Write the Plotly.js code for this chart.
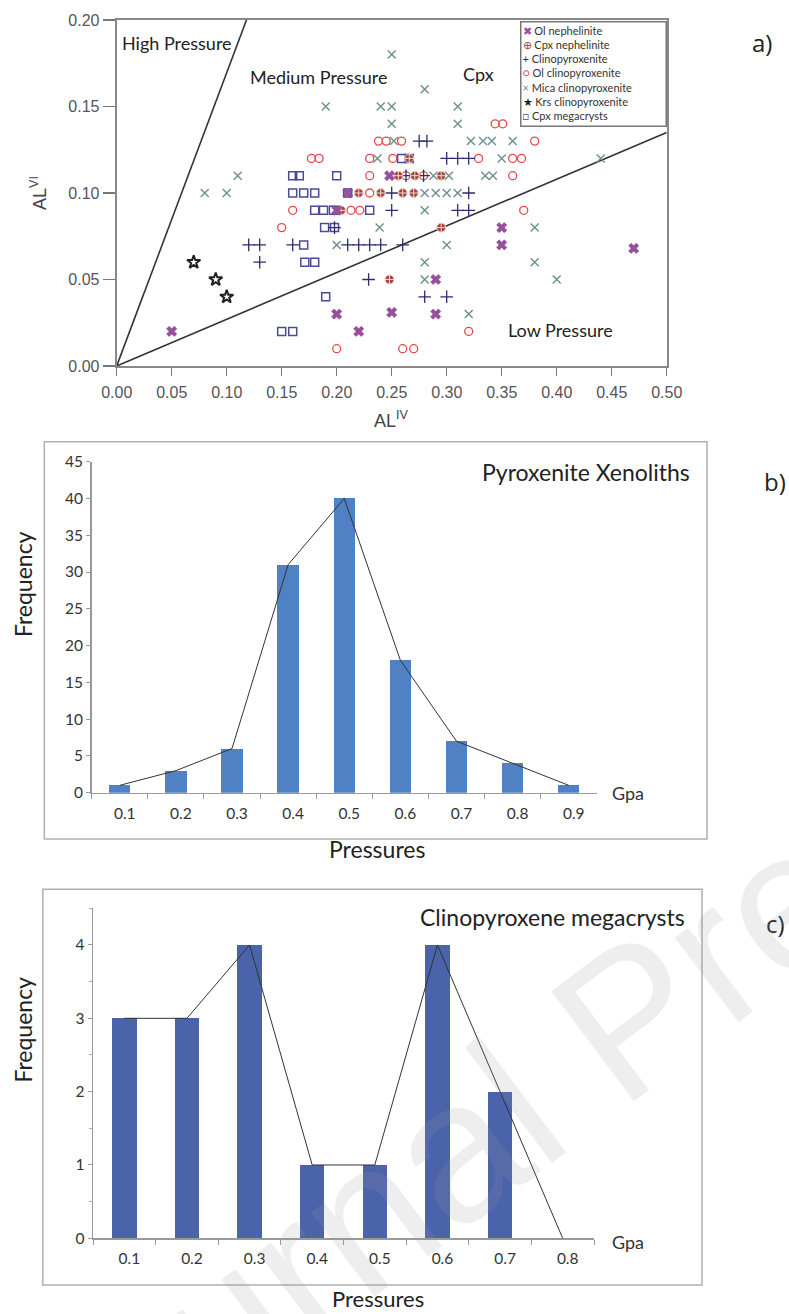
<!DOCTYPE html>
<html>
<head>
<meta charset="utf-8">
<script src="https://cdn.plot.ly/plotly-3.0.1.min.js"></script>
<style>html,body{margin:0;padding:0;background:#fff}#chart{width:789px;height:1314px}</style>
</head>
<body>
<div id="chart"></div>
<script>
// ---------- Panel a data (AL IV vs AL VI) ----------
const seriesNames = ["Ol nephelinite","Cpx nephelinite","Clinopyroxenite","Ol clinopyroxenite","Mica clinopyroxenite","Krs clinopyroxenite","Cpx megacrysts"];
const olNephX = [0.05,0.20,0.22,0.25,0.29,0.29,0.35,0.35,0.47,0.21,0.248,0.20];
const olNephY = [0.02,0.03,0.02,0.031,0.03,0.05,0.08,0.07,0.068,0.10,0.11,0.09];
const cpxNephX = [0.295,0.22,0.24,0.26,0.27,0.256,0.271,0.295,0.204,0.266,0.248];
const cpxNephY = [0.08,0.10,0.10,0.10,0.10,0.11,0.11,0.11,0.09,0.12,0.05];
const clinoX = [0.12,0.13,0.13,0.16,0.21,0.22,0.23,0.24,0.26,0.229,0.28,0.30,0.25,0.31,0.32,0.25,0.32,0.30,0.31,0.32,0.275,0.282,0.198,0.263,0.279];
const clinoY = [0.07,0.07,0.06,0.07,0.07,0.07,0.07,0.07,0.07,0.05,0.04,0.04,0.09,0.09,0.09,0.10,0.10,0.12,0.12,0.12,0.13,0.13,0.08,0.11,0.11];
const olClinoX = [0.15,0.16,0.213,0.221,0.23,0.23,0.36,0.177,0.184,0.23,0.251,0.329,0.36,0.368,0.238,0.245,0.259,0.38,0.344,0.351,0.37,0.32,0.20,0.26,0.27,0.263,0.279];
const olClinoY = [0.08,0.09,0.09,0.09,0.10,0.11,0.11,0.12,0.12,0.12,0.12,0.12,0.12,0.12,0.13,0.13,0.13,0.13,0.14,0.14,0.09,0.02,0.01,0.01,0.01,0.11,0.11];
const micaX = [0.08,0.10,0.11,0.19,0.24,0.25,0.31,0.25,0.31,0.25,0.28,0.252,0.322,0.333,0.341,0.36,0.237,0.35,0.288,0.302,0.335,0.342,0.28,0.29,0.30,0.31,0.28,0.239,0.38,0.20,0.30,0.28,0.38,0.28,0.40,0.32,0.44];
const micaY = [0.10,0.10,0.11,0.15,0.15,0.15,0.15,0.14,0.14,0.18,0.16,0.13,0.13,0.13,0.13,0.13,0.12,0.12,0.11,0.11,0.11,0.11,0.10,0.10,0.10,0.10,0.09,0.08,0.08,0.07,0.07,0.06,0.06,0.05,0.05,0.03,0.12];
const krsX = [0.07,0.09,0.10];
const krsY = [0.06,0.05,0.04];
const megaX = [0.16,0.166,0.20,0.16,0.17,0.18,0.18,0.188,0.23,0.189,0.198,0.17,0.171,0.18,0.19,0.15,0.16,0.259,0.266,0.21,0.197];
const megaY = [0.11,0.11,0.11,0.10,0.10,0.10,0.09,0.09,0.09,0.08,0.08,0.07,0.06,0.06,0.04,0.02,0.02,0.12,0.12,0.10,0.09];
// pressure field boundaries
const highLineX = [0, 0.118], highLineY = [0, 0.20];
const lowLineX = [0, 0.50], lowLineY = [0, 0.135];

// ---------- Panel b data ----------
const pressB = ["0.1","0.2","0.3","0.4","0.5","0.6","0.7","0.8","0.9"];
const freqB = [1,3,6,31,40,18,7,4,1];
// ---------- Panel c data ----------
const pressC = ["0.1","0.2","0.3","0.4","0.5","0.6","0.7","0.8"];
const freqC = [3,3,4,1,1,4,2,0];

const W = 789, H = 1314;
const px = v => v / W;
const py = v => 1 - v / H;

const colors = {
  olNeph: "#9a4f9e", cpxNeph: "#a3453c", clino: "#2c2c72", olClino: "#e04a4a",
  mica: "#6c8f90", krs: "#222222", mega: "#4a4a98"
};

function sc(x, y, name, symbol, color, size, lw) {
  return {
    type: "scatter", mode: "markers", x: x, y: y, name: name, xaxis: "x", yaxis: "y",
    showlegend: false,
    marker: { symbol: symbol, size: size, color: color, line: { color: color, width: lw } }
  };
}

const traces = [
  { type: "scatter", mode: "lines", x: highLineX, y: highLineY, xaxis: "x", yaxis: "y", showlegend: false, hoverinfo: "skip", line: { color: "#333", width: 1.6 } },
  { type: "scatter", mode: "lines", x: lowLineX, y: lowLineY, xaxis: "x", yaxis: "y", showlegend: false, hoverinfo: "skip", line: { color: "#333", width: 1.6 } },
  sc(megaX, megaY, seriesNames[6], "square-open", colors.mega, 8, 1.5),
  sc(olClinoX, olClinoY, seriesNames[3], "circle-open", colors.olClino, 8, 1.3),
  sc(micaX, micaY, seriesNames[4], "x-thin-open", colors.mica, 8, 1.4),
  sc(clinoX, clinoY, seriesNames[2], "cross-thin-open", colors.clino, 9, 1.3),
  { type: "scatter", mode: "markers", x: cpxNephX, y: cpxNephY, name: seriesNames[1], xaxis: "x", yaxis: "y", showlegend: false,
    marker: { symbol: "circle-cross", size: 9, color: colors.cpxNeph, line: { color: "#f2d6d2", width: 1 } } },
  { type: "scatter", mode: "markers", x: olNephX, y: olNephY, name: seriesNames[0], xaxis: "x", yaxis: "y", showlegend: false,
    marker: { symbol: "x", size: 9, color: colors.olNeph, line: { color: "#7a3c7e", width: 0.5 } } },
  sc(krsX, krsY, seriesNames[5], "star-open", colors.krs, 10, 2),
  // panel b
  { type: "bar", x: pressB, y: freqB, xaxis: "x2", yaxis: "y2", width: 0.38, showlegend: false,
    marker: { color: "#4f81c4" }, name: "Pyroxenite Xenoliths" },
  { type: "scatter", mode: "lines", x: pressB, y: freqB, xaxis: "x2", yaxis: "y2", showlegend: false, hoverinfo: "skip",
    line: { color: "#333", width: 1 } },
  // panel c
  { type: "bar", x: pressC, y: freqC, xaxis: "x3", yaxis: "y3", width: 0.39, showlegend: false,
    marker: { color: "#4a63ab" }, name: "Clinopyroxene megacrysts" },
  { type: "scatter", mode: "lines", x: pressC, y: freqC, xaxis: "x3", yaxis: "y3", showlegend: false, hoverinfo: "skip",
    line: { color: "#333", width: 1 } }
];

const tickA = { family: "Liberation Sans, Arial, sans-serif", size: 16, color: "#555" };
const tickB = { family: "Lato, sans-serif", size: 15.5, color: "#333" };
const labFont = { family: "Lato, sans-serif", size: 18, color: "#222" };
const bigFont = { family: "Lato, sans-serif", size: 23, color: "#222" };
const panelFont = { family: "Open Sans, sans-serif", size: 24, color: "#222" };

// manual legend text
const legendGlyphs = ["\u2716", "\u2295", "+", "\u25CB", "\u00D7", "\u2605", "\u25A1"];
const legendColors = [colors.olNeph, colors.cpxNeph, colors.clino, colors.olClino, colors.mica, colors.krs, colors.mega];
const legendText = seriesNames.map((n, i) =>
  '<span style="color:' + legendColors[i] + '">' + legendGlyphs[i] + '</span> ' + n).join("<br>");

function pa(xp, yp, text, font, extra) {
  return Object.assign({ xref: "paper", yref: "paper", x: px(xp), y: py(yp), text: text, showarrow: false,
    xanchor: "center", yanchor: "middle", font: font }, extra || {});
}

const layout = {
  width: W, height: H,
  margin: { l: 0, r: 0, t: 0, b: 0 },
  paper_bgcolor: "#ffffff", plot_bgcolor: "rgba(0,0,0,0)",
  showlegend: false,
  bargap: 0,
  xaxis: {
    domain: [px(116.7), px(666.7)], range: [0, 0.5], anchor: "y",
    tick0: 0, dtick: 0.05, tickformat: ".2f", ticks: "outside", ticklen: 8, tickwidth: 1.5, tickcolor: "#777",
    showline: true, mirror: true, linecolor: "#888", linewidth: 2, showgrid: false, zeroline: false,
    tickfont: tickA, ticklabelstandoff: 3
  },
  yaxis: {
    domain: [py(366), py(20)], range: [0, 0.2], anchor: "x",
    tick0: 0, dtick: 0.05, tickformat: ".2f", ticks: "outside", ticklen: 12, tickwidth: 1.5, tickcolor: "#777",
    showline: true, mirror: true, linecolor: "#888", linewidth: 2, showgrid: false, zeroline: false,
    tickfont: tickA
  },
  xaxis2: {
    domain: [px(91.7), px(596.8)], type: "category", range: [-0.5, 8.5], anchor: "y2",
    tickson: "boundaries", ticks: "outside", ticklen: 5, tickcolor: "#999",
    showline: true, linecolor: "#999", linewidth: 1.5, showgrid: false, zeroline: false,
    tickfont: tickB, ticklabelshift: 5, ticklabelstandoff: 6
  },
  yaxis2: {
    domain: [py(792.7), py(461.7)], range: [0, 45], anchor: "x2", dtick: 5,
    ticks: "outside", ticklen: 4, tickcolor: "#999",
    showline: true, linecolor: "#999", linewidth: 1.5, showgrid: false, zeroline: false,
    tickfont: tickB
  },
  xaxis3: {
    domain: [px(93), px(594)], type: "category", range: [-0.5, 7.5], anchor: "y3",
    tickson: "boundaries", ticks: "outside", ticklen: 5, tickcolor: "#999",
    showline: true, linecolor: "#999", linewidth: 1.5, showgrid: false, zeroline: false,
    tickfont: tickB, ticklabelshift: 5, ticklabelstandoff: 6
  },
  yaxis3: {
    domain: [py(1238.3), py(908.3)], range: [0, 4.5], anchor: "x3", dtick: 1,
    ticks: "outside", ticklen: 4, tickcolor: "#999",
    minor: { dtick: 0.5, ticks: "outside", ticklen: 3, tickcolor: "#aaa" },
    showline: true, linecolor: "#999", linewidth: 1.5, showgrid: false, zeroline: false,
    tickfont: tickB
  },
  shapes: [
    { type: "rect", xref: "paper", yref: "paper", x0: px(44.3), x1: px(707), y0: py(839), y1: py(441.7), line: { color: "#b0b0b0", width: 1.5 } },
    { type: "rect", xref: "paper", yref: "paper", x0: px(42.8), x1: px(702), y0: py(1285), y1: py(889.3), line: { color: "#b0b0b0", width: 1.5 } }
  ],
  annotations: [
    // panel a
    { xref: "x", yref: "y", x: 0.0545, y: 0.1865, text: "High Pressure", showarrow: false, font: labFont, xanchor: "center", yanchor: "middle" },
    { xref: "x", yref: "y", x: 0.183, y: 0.167, text: "Medium Pressure", showarrow: false, font: labFont, xanchor: "center", yanchor: "middle" },
    { xref: "x", yref: "y", x: 0.329, y: 0.169, text: "Cpx", showarrow: false, font: labFont, xanchor: "center", yanchor: "middle" },
    { xref: "x", yref: "y", x: 0.403, y: 0.021, text: "Low Pressure", showarrow: false, font: labFont, xanchor: "center", yanchor: "middle" },
    pa(520, 20.7, legendText, { family: "Lato, sans-serif", size: 11, color: "#333" },
      { xanchor: "left", yanchor: "top", align: "left", valign: "top", width: 142, height: 101,
        bordercolor: "#777", borderwidth: 1.5, borderpad: 1, bgcolor: "#ffffff" }),
    pa(391, 419, "AL<sup>IV</sup>", { family: "Liberation Sans, Arial, sans-serif", size: 18, color: "#444" }),
    pa(38, 193, "AL<sup>VI</sup>", { family: "Liberation Sans, Arial, sans-serif", size: 18, color: "#444" }, { textangle: -90 }),
    pa(762, 42, "a)", panelFont),
    // panel b
    pa(692, 471.7, "Pyroxenite Xenoliths", bigFont, { xanchor: "right" }),
    pa(775, 481.7, "b)", panelFont),
    pa(610, 793.3, "Gpa", { family: "Lato, sans-serif", size: 18, color: "#333" }, { xanchor: "left" }),
    pa(377, 849, "Pressures", bigFont),
    pa(22.6, 584.5, "Frequency", bigFont, { textangle: -90 }),
    // panel c
    pa(687, 916.7, "Clinopyroxene megacrysts", bigFont, { xanchor: "right" }),
    pa(775, 923, "c)", panelFont),
    pa(610, 1241.7, "Gpa", { family: "Lato, sans-serif", size: 18, color: "#333" }, { xanchor: "left" }),
    pa(377.5, 1298, "Pressures", { family: "Lato, sans-serif", size: 22, color: "#222" }),
    pa(22.6, 1030, "Frequency", bigFont, { textangle: -90 }),
    // watermark
    pa(628, 1018, "Journal Pre-proof", { family: "Liberation Sans, Arial, sans-serif", size: 200, color: "rgba(150,150,150,0.16)" }, { textangle: -37 })
  ]
};

Plotly.newPlot("chart", traces, layout, { displayModeBar: false, staticPlot: true });
</script>
</body>
</html>
